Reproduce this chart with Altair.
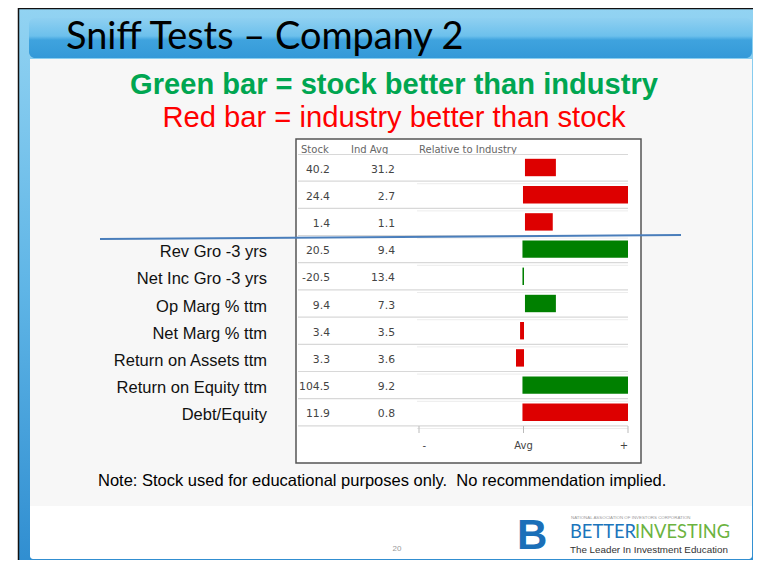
import altair as alt
import pandas as pd

# ---------------- data ----------------
row_ids = ["r1", "r2", "r3", "r4", "r5", "r6", "r7", "r8", "r9", "r10"]
row_labels = ["", "", "", "Rev Gro -3 yrs", "Net Inc Gro -3 yrs", "Op Marg % ttm",
              "Net Marg % ttm", "Return on Assets ttm", "Return on Equity ttm", "Debt/Equity"]
stock_vals = ["40.2", "24.4", "1.4", "20.5", "-20.5", "9.4", "3.4", "3.3", "104.5", "11.9"]
ind_vals = ["31.2", "2.7", "1.1", "9.4", "13.4", "7.3", "3.5", "3.6", "9.2", "0.8"]
rel_start = [1.4, -0.5, 1.4, -1, -1, 1.4, -3.3, -7.2, -1, -1]
rel_end = [31, 100, 28, 100, 0.5, 31, 0.5, 0.5, 100, 100]
better = ["industry", "industry", "industry", "stock", "stock", "stock",
          "industry", "industry", "stock", "industry"]
header_texts = ["Stock", "Ind Avg", "Relative to Industry"]
axis_ticks = [-100, 0, 100]
axis_label_pos = [-95, 0, 96]
axis_labels = ["-", "Avg", "+"]

rows = pd.DataFrame({
    "id": row_ids, "label": row_labels, "stock": stock_vals, "ind": ind_vals,
    "start": rel_start, "end": rel_end, "better": better,
})
ticks = pd.DataFrame({"v": axis_ticks})
tick_labels = pd.DataFrame({"v": axis_label_pos, "t": axis_labels})
one = pd.DataFrame({"k": [0]})


def px(v):
    """page pixel -> plot pixel (page has 8px margin)"""
    return v - 8


W, H = 745, 552

yscale = alt.Scale(type="band", domain=row_ids, range=[px(153.9), px(425.9)],
                   paddingInner=0.36, paddingOuter=0.18)
xscale = alt.Scale(domain=[-100, 100], range=[px(419), px(628)])
Y = alt.Y("id:N", scale=yscale, axis=None)


def box(x0, x1, y0, y1, **kw):
    return alt.Chart(one).mark_rect(**kw).encode(
        x=alt.value(px(x0)), x2=alt.value(px(x1)),
        y=alt.value(px(y0)), y2=alt.value(px(y1)))


def label(txt, x, y, **kw):
    return alt.Chart(one).mark_text(text=txt, **kw).encode(
        x=alt.value(px(x)), y=alt.value(px(y)))


frame_grad = alt.LinearGradient(
    gradient="linear", x1=0, x2=0, y1=0, y2=1,
    stops=[alt.GradientStop(color="#92d3f2", offset=0),
           alt.GradientStop(color="#5fb5e6", offset=0.5),
           alt.GradientStop(color="#2f8dd0", offset=1)])
title_grad = alt.LinearGradient(
    gradient="linear", x1=0, x2=0, y1=0, y2=1,
    stops=[alt.GradientStop(color="#8fd0f1", offset=0),
           alt.GradientStop(color="#6cc0ec", offset=0.45),
           alt.GradientStop(color="#3fa3de", offset=0.55),
           alt.GradientStop(color="#3499d8", offset=1)])

layers = [
    box(18.5, 760, 8.5, 570, fill=frame_grad, stroke="#111111", strokeWidth=1.5),
    box(29, 752, 18, 58, fill=title_grad, cornerRadius=6),
    box(30, 752, 59, 559, fill="#ffffff", cornerRadius=3),
    box(30, 752, 59, 506, fill="#f7f7f7"),
    label("Sniff Tests \u2013 Company 2", 66, 49, align="left", baseline="alphabetic",
          font="Lato", fontSize=37.9, color="#000000"),
    label("Green bar = stock better than industry", 394, 94, align="center",
          baseline="alphabetic", font="Liberation Sans", fontWeight="bold",
          fontSize=29.1, color="#00a651"),
    label("Red bar = industry better than stock", 394, 127, align="center",
          baseline="alphabetic", font="Liberation Sans", fontSize=29.2, color="#ff0000"),
    # table box
    box(296, 641, 139, 463, fill="#ffffff", stroke="#555555", strokeWidth=1.5),
    label(header_texts[0], 301, 150, align="left", baseline="middle",
          font="DejaVu Sans", fontSize=10, color="#666666"),
    label(header_texts[1], 351, 150, align="left", baseline="middle",
          font="DejaVu Sans", fontSize=10, color="#666666"),
    label(header_texts[2], 419, 150, align="left", baseline="middle",
          font="DejaVu Sans", fontSize=10, color="#666666"),
    # header separator
    alt.Chart(one).mark_rule(color="#d8d8d8", strokeWidth=1.2).encode(
        x=alt.value(px(298)), x2=alt.value(px(628)), y=alt.value(px(154.5))),
    # row separators
    alt.Chart(rows).mark_rule(color="#d8d8d8", strokeWidth=1.2, yOffset=4.9).encode(
        y=alt.Y("id:N", scale=yscale, axis=None, bandPosition=1),
        x=alt.value(px(298)), x2=alt.value(px(628))),
    alt.Chart(rows).mark_rule(color="#ececec", strokeWidth=1, yOffset=7.5).encode(
        y=alt.Y("id:N", scale=yscale, axis=None, bandPosition=1),
        x=alt.value(px(417)), x2=alt.value(px(628))),
    # bars
    alt.Chart(rows).mark_bar().encode(
        y=Y,
        x=alt.X("start:Q", scale=xscale, axis=None),
        x2="end:Q",
        color=alt.Color("better:N", legend=None,
                        scale=alt.Scale(domain=["stock", "industry"],
                                        range=["#008000", "#dd0000"]))),
    # values
    alt.Chart(rows).mark_text(align="right", baseline="middle", dy=2,
                              font="DejaVu Sans", fontSize=10.8, color="#444444").encode(
        y=Y, x=alt.value(px(330)), text="stock:N"),
    alt.Chart(rows).mark_text(align="right", baseline="middle", dy=2,
                              font="DejaVu Sans", fontSize=10.8, color="#444444").encode(
        y=Y, x=alt.value(px(395)), text="ind:N"),
    # row labels
    alt.Chart(rows).mark_text(align="right", baseline="middle", dy=3,
                              font="Liberation Sans", fontSize=16.5, color="#111111").encode(
        y=Y, x=alt.value(px(267)), text="label:N"),
    # blue line
    alt.Chart(one).mark_rule(color="#4a7ebb", strokeWidth=2).encode(
        x=alt.value(px(100)), y=alt.value(px(239)), x2=alt.value(px(681)), y2=alt.value(px(235))),
    # axis
    alt.Chart(ticks).mark_rule(color="#bbbbbb", strokeWidth=1).encode(
        x=alt.X("v:Q", scale=xscale, axis=None),
        y=alt.value(px(426)), y2=alt.value(px(433))),
    alt.Chart(tick_labels).mark_text(baseline="middle", font="DejaVu Sans",
                                     fontSize=10, color="#444444").encode(
        x=alt.X("v:Q", scale=xscale, axis=None),
        y=alt.value(px(446)), text="t:N"),
    # note
    label("Note: Stock used for educational purposes only.\u00a0 No recommendation implied.",
          98, 486, align="left", baseline="alphabetic", font="Liberation Sans",
          fontSize=16.5, color="#000000"),
    label("20", 397, 549, align="center", baseline="middle", font="Liberation Sans",
          fontSize=8, color="#999999"),
    # logo
    label("B", 517, 549, align="left", baseline="alphabetic", font="Liberation Sans",
          fontWeight="bold", fontSize=42, color="#1b6fb8"),
    label("NATIONAL ASSOCIATION OF INVESTORS CORPORATION", 571, 518, align="left",
          baseline="middle", font="Liberation Sans", fontSize=4.4, color="#999999"),
    label("BETTER", 570, 538, align="left", baseline="alphabetic", font="Lato",
          fontSize=18.3, color="#1b75bc"),
    label("INVESTING", 635, 538, align="left", baseline="alphabetic", font="Lato",
          fontSize=18.3, color="#6cb33f"),
    label("The Leader In Investment Education", 570, 553, align="left",
          baseline="alphabetic", font="Liberation Sans", fontSize=9.8, color="#333333"),
]

chart = alt.layer(*layers).properties(
    width=W, height=H, padding=0,
    autosize=alt.AutoSizeParams(type="none"),
).configure_view(strokeWidth=0)

chart.save("out.html", embed_options={"renderer": "svg", "actions": False})
